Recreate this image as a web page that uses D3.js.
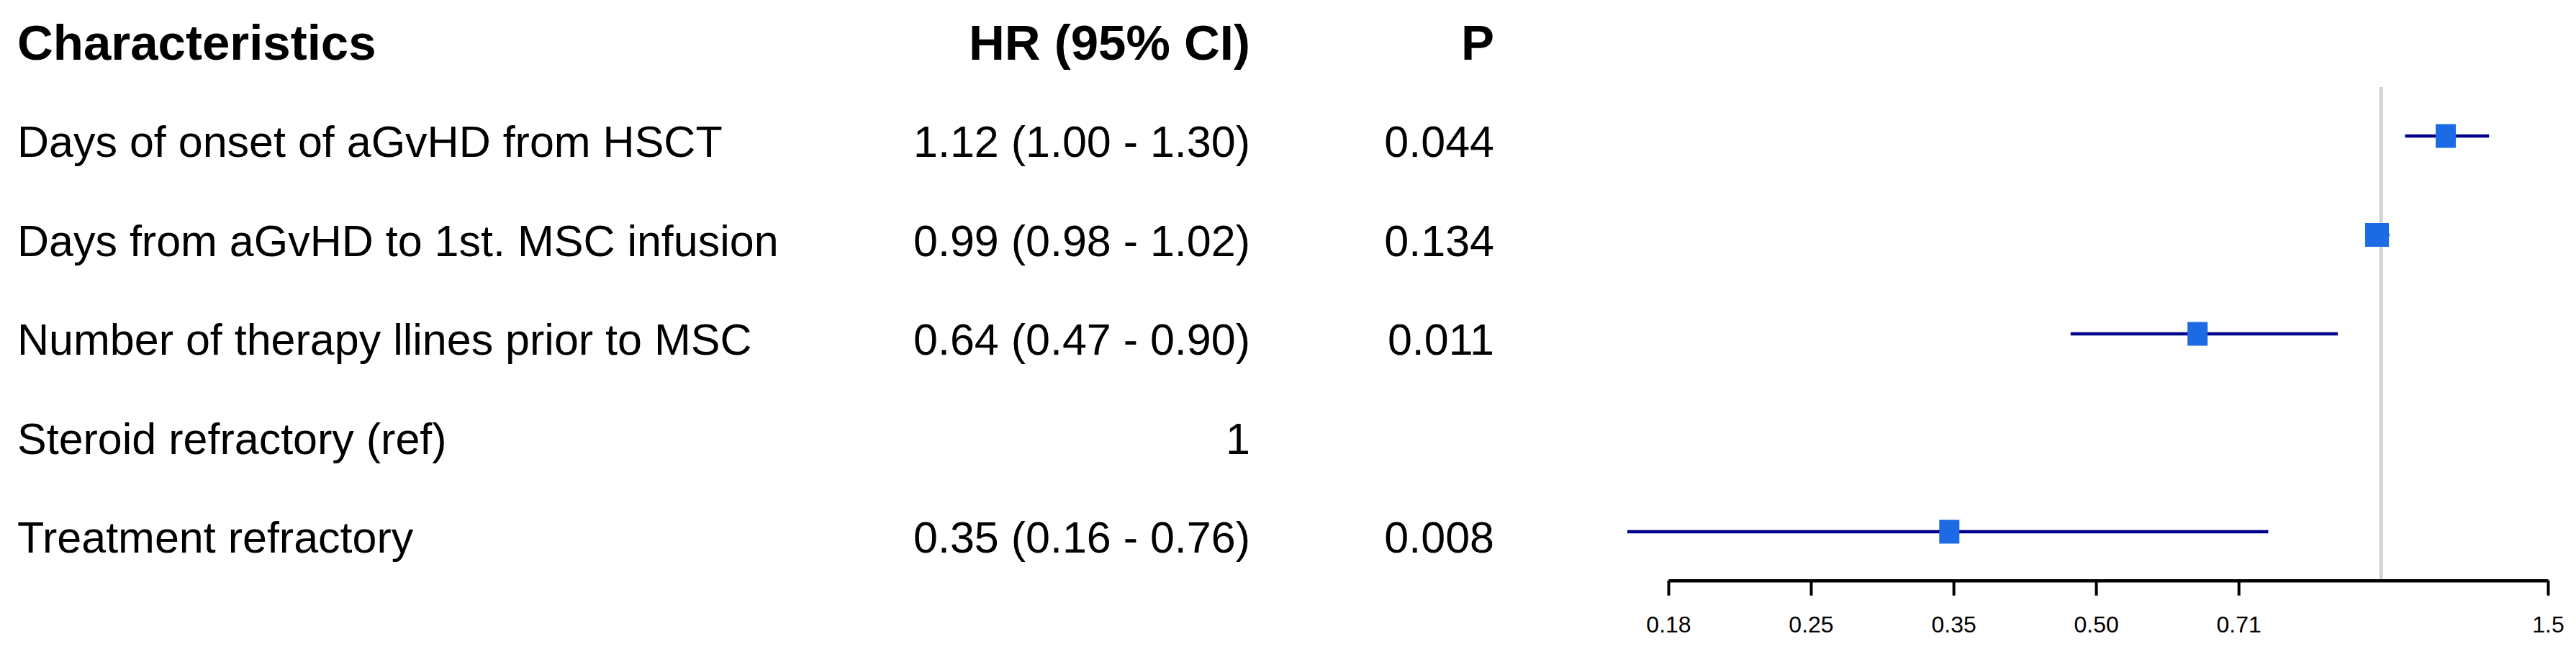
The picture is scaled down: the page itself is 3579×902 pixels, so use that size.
<!DOCTYPE html>
<html>
<head>
<meta charset="utf-8">
<script src="https://cdn.jsdelivr.net/npm/d3@7"></script>
<style>
  html, body { margin: 0; padding: 0; background: #ffffff; }
  svg { display: block; }
  text { font-family: "Liberation Sans", Arial, Helvetica, sans-serif; fill: #000; }
</style>
</head>
<body>
<script>
// ---------------- data ----------------
const characteristics = [
  "Days of onset of aGvHD from HSCT",
  "Days from aGvHD to 1st. MSC infusion",
  "Number of therapy llines prior to MSC",
  "Steroid refractory (ref)",
  "Treatment refractory"
];
const hrLabels = [
  "1.12 (1.00 - 1.30)",
  "0.99 (0.98 - 1.02)",
  "0.64 (0.47 - 0.90)",
  "1",
  "0.35 (0.16 - 0.76)"
];
const pLabels = ["0.044", "0.134", "0.011", "", "0.008"];
// plotted estimates as drawn in the figure
const hr    = [1.17, 0.99, 0.64, null, 0.35];
const lower = [1.06, 0.98, 0.47, null, 0.16];
const upper = [1.30, 1.02, 0.90, null, 0.76];
const tickValues = [0.1768, 0.25, 0.3536, 0.5, 0.7071, 1.5];
const tickLabels = ["0.18", "0.25", "0.35", "0.50", "0.71", "1.5"];
const headers = ["Characteristics", "HR (95% CI)", "P"];
const refValue = 1;

// ---------------- style ----------------
const W = 3579, H = 902;
const boxW = [28, 33, 28, 0, 28];   // box widths (px) per row as drawn
const boxH = 33;

const svg = d3.select("body").append("svg")
  .attr("width", W).attr("height", H);
svg.append("rect").attr("width", W).attr("height", H).attr("fill", "#fff");

const rows = d3.range(characteristics.length);
const x = d3.scaleLog().domain([tickValues[0], tickValues[tickValues.length - 1]]).range([2318, 3540]);
const y = d3.scalePoint().domain(rows).range([189, 739]);

// headers
const hdr = svg.append("g").attr("font-weight", "bold").attr("font-size", 69);
hdr.append("text").attr("x", 24).attr("y", 83).text(headers[0]);
hdr.append("text").attr("x", 1737).attr("y", 83).attr("text-anchor", "end").text(headers[1]);
hdr.append("text").attr("x", 2076).attr("y", 83).attr("text-anchor", "end").text(headers[2]);

// table text
const tbl = svg.append("g").attr("font-size", 61);
tbl.selectAll("text.c").data(rows).join("text").attr("class", "c")
  .attr("x", 24).attr("y", i => y(i) + 29).text(i => characteristics[i]);
tbl.selectAll("text.h").data(rows).join("text").attr("class", "h")
  .attr("x", 1737).attr("y", i => y(i) + 29).attr("text-anchor", "end").text(i => hrLabels[i]);
tbl.selectAll("text.p").data(rows).join("text").attr("class", "p")
  .attr("x", 2076).attr("y", i => y(i) + 29).attr("text-anchor", "end").text(i => pLabels[i]);

// reference line
svg.append("line")
  .attr("x1", x(refValue)).attr("x2", x(refValue))
  .attr("y1", 121).attr("y2", 806)
  .attr("stroke", "#d3d3d3").attr("stroke-width", 5);

// CIs and boxes
const est = rows.filter(i => hr[i] != null);
svg.append("g").selectAll("line").data(est).join("line")
  .attr("x1", i => x(lower[i])).attr("x2", i => x(upper[i]))
  .attr("y1", i => y(i)).attr("y2", i => y(i))
  .attr("stroke", "#00008b").attr("stroke-width", 4.5);
svg.append("g").selectAll("rect").data(est).join("rect")
  .attr("x", i => x(hr[i]) - boxW[i] / 2)
  .attr("y", i => y(i) - boxH / 2)
  .attr("width", i => boxW[i]).attr("height", boxH)
  .attr("fill", "#1d6ae5");

// axis
const axis = d3.axisBottom(x)
  .tickValues(tickValues)
  .tickFormat((d, i) => tickLabels[i])
  .tickSize(21).tickSizeOuter(0).tickPadding(29);
const ax = svg.append("g").attr("transform", "translate(0,806.7)").call(axis);
ax.select(".domain").attr("stroke", "#000").attr("stroke-width", 4.5);
ax.selectAll(".tick line").attr("stroke", "#000").attr("stroke-width", 4);
ax.selectAll(".tick text")
  .attr("font-family", "'Liberation Sans', Arial, sans-serif")
  .attr("font-size", 32).attr("fill", "#000");
</script>
</body>
</html>
